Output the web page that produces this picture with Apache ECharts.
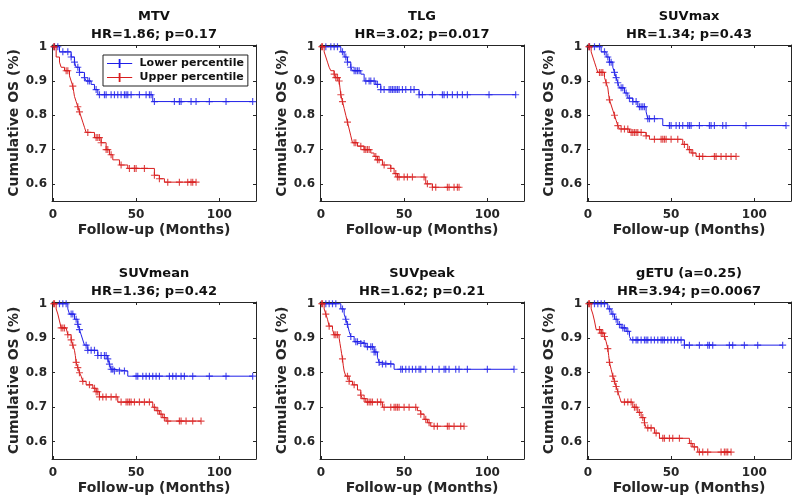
<!DOCTYPE html>
<html>
<head>
<meta charset="utf-8">
<script src="https://cdn.jsdelivr.net/npm/echarts@6/dist/echarts.min.js"></script>
<style>html,body{margin:0;padding:0;background:#fff}#c{width:800px;height:502px}</style>
</head>
<body>
<div id="c"></div>
<script>
// ---------- DATA ----------
const panelNames = ['MTV', 'TLG', 'SUVmax', 'SUVmean', 'SUVpeak', 'gETU (a=0.25)'];
const hrLabels = ['HR=1.86; p=0.17', 'HR=3.02; p=0.017', 'HR=1.34; p=0.43', 'HR=1.36; p=0.42', 'HR=1.62; p=0.21', 'HR=3.94; p=0.0067'];
const groupNames = ['Lower percentile', 'Upper percentile'];
const xTicks = [0, 50, 100];
const yTicks = [0.6, 0.7, 0.8, 0.9, 1];

// KM steps: [time, survival from that time], last follow-up time, censoring times
const mtvLowerSteps = [[0,1],[4,0.985],[11,0.97],[13,0.955],[14,0.94],[16,0.925],[19,0.91],[20,0.9],[23,0.89],[25,0.875],[27,0.86],[60,0.84]];
const mtvLowerEnd = 120;
const mtvLowerCens = [1,3,6,9,11,13,15,16,19,21,22,26,28,31,32,35,37,39,41,43,44,45,47,52,56,58,59,61,73,76,77,83,86,94,104,120];
const mtvUpperSteps = [[0,1],[2,0.97],[4,0.955],[5,0.94],[7,0.93],[10,0.915],[11,0.9],[12,0.885],[12.5,0.87],[13,0.855],[14,0.84],[15,0.825],[16,0.81],[17,0.795],[18,0.78],[19,0.765],[20,0.75],[25,0.735],[29,0.72],[32,0.7],[34,0.685],[36,0.67],[40,0.655],[45,0.645],[61,0.625],[64,0.615],[67,0.605]];
const mtvUpperEnd = 86;
const mtvUpperCens = [0.5,1,8,9,12,15,16,21,26,27,28,29,32,33,35,41,46,49,50,55,61,64,69,76,81,83,84,86];

const tlgLowerSteps = [[0,1],[12,0.985],[14,0.97],[16,0.955],[18,0.94],[19,0.93],[24,0.92],[26,0.9],[33,0.89],[36,0.875],[59,0.86]];
const tlgLowerEnd = 117;
const tlgLowerCens = [3,6,8,10,13,15,16,18,20,21,22,23,27,29,30,32,34,36,38,41,42,43,44,45,46,47,49,51,54,56,59,61,67,73,74,76,79,82,85,88,101,117];
const tlgUpperSteps = [[0,1],[2,0.985],[3,0.97],[4,0.955],[5,0.94],[6,0.93],[8,0.92],[9,0.91],[11,0.9],[11.5,0.88],[12,0.86],[13,0.84],[14,0.82],[15,0.8],[16,0.78],[17,0.76],[18,0.74],[19,0.72],[22,0.71],[26,0.7],[30,0.69],[32,0.68],[34,0.67],[37,0.655],[42,0.645],[44,0.63],[46,0.62],[63,0.6],[67,0.59]];
const tlgUpperEnd = 83;
const tlgUpperCens = [0.5,1,8,9,10,11,12,13,16,20,21,24,26,27,28,29,33,34,35,38,42,45,46,47,50,52,55,62,64,67,69,76,77,80,82,83];

const suvmaxLowerSteps = [[0,1],[8,0.985],[11,0.97],[13,0.955],[15,0.94],[16,0.925],[17,0.91],[18,0.895],[19,0.88],[22,0.865],[24,0.85],[27,0.84],[30,0.825],[35,0.81],[36,0.79],[45,0.77]];
const suvmaxLowerEnd = 119;
const suvmaxLowerCens = [1,4,7,10,12,13,14,16,17,18,20,21,23,25,27,29,31,32,33,34,36,37,40,49,50,53,55,57,60,61,62,67,73,74,76,81,83,95,119];
const suvmaxUpperSteps = [[0,1],[2,0.985],[3,0.97],[4,0.955],[5,0.94],[6,0.925],[10,0.91],[11,0.895],[12,0.88],[12.5,0.86],[13,0.845],[14,0.83],[15,0.815],[16,0.8],[17,0.785],[18,0.77],[19,0.76],[25,0.75],[35,0.74],[37,0.73],[57,0.715],[60,0.7],[62,0.69],[65,0.68]];
const suvmaxUpperEnd = 89;
const suvmaxUpperCens = [0.5,1,7,8,9,11,13,16,18,20,22,24,26,27,28,29,30,32,35,40,44,45,46,47,50,54,58,61,63,67,69,76,77,80,83,86,89];

const suvmeanLowerSteps = [[0,1],[9,0.985],[10,0.97],[13,0.955],[15,0.94],[16,0.925],[17,0.91],[18,0.895],[19,0.88],[21,0.865],[27,0.85],[33,0.84],[34,0.825],[35,0.81],[37,0.805],[45,0.79]];
const suvmeanLowerEnd = 120;
const suvmeanLowerCens = [4,6,8,11,12,14,15,16,20,21,23,25,27,29,31,32,33,34,35,36,37,40,43,50,51,54,56,58,60,62,64,70,72,74,77,79,84,94,104,120];
const suvmeanUpperSteps = [[0,1],[2,0.985],[3,0.97],[4,0.95],[5,0.93],[8,0.925],[9,0.91],[11,0.895],[12,0.88],[13,0.865],[13.5,0.85],[14,0.83],[15,0.815],[16,0.8],[17,0.79],[18,0.775],[20,0.765],[24,0.755],[26,0.745],[28,0.73],[39,0.715],[60,0.7],[62,0.69],[64,0.68],[66,0.67],[68,0.66]];
const suvmeanUpperEnd = 89;
const suvmeanUpperCens = [0.5,1,5,6,7,9,11,12,14,15,16,18,22,25,26,27,28,30,32,35,38,41,44,45,46,47,49,52,55,58,61,63,65,67,69,76,77,80,84,89];

const suvpeakLowerSteps = [[0,1],[12,0.985],[14,0.97],[15,0.955],[16,0.94],[17,0.92],[18,0.905],[20,0.89],[24,0.885],[27,0.875],[32,0.86],[34,0.845],[35,0.83],[36,0.825],[44,0.81]];
const suvpeakLowerEnd = 116;
const suvpeakLowerCens = [3,5,7,9,13,15,16,18,21,22,24,26,28,30,31,32,33,35,37,39,42,48,49,51,53,55,57,59,60,63,67,71,74,75,77,81,83,88,100,116];
const suvpeakUpperSteps = [[0,1],[2,0.985],[3,0.97],[4,0.955],[5,0.935],[7,0.925],[8,0.91],[11,0.9],[11.5,0.885],[12,0.87],[12.5,0.855],[13,0.84],[13.5,0.82],[14,0.805],[15,0.79],[17,0.775],[19,0.765],[22,0.75],[24,0.735],[25,0.725],[27,0.715],[37,0.7],[58,0.69],[60,0.68],[62,0.665],[64,0.655],[66,0.645]];
const suvpeakUpperEnd = 86;
const suvpeakUpperCens = [0.5,1,3,5,8,9,10,13,16,17,20,24,26,28,29,30,31,34,36,38,42,44,45,46,47,50,53,57,60,63,65,68,70,76,77,80,84,86];

const getuLowerSteps = [[0,1],[12,0.985],[14,0.97],[16,0.955],[18,0.94],[20,0.93],[23,0.92],[25,0.905],[26,0.895],[58,0.88]];
const getuLowerEnd = 117;
const getuLowerCens = [4,6,8,10,13,15,17,19,21,22,24,27,29,30,32,34,35,36,38,40,42,44,45,46,48,50,52,54,56,58,61,67,72,73,75,85,87,94,102,117];
const getuUpperSteps = [[0,1],[2,0.985],[3,0.97],[4,0.95],[5,0.925],[8,0.915],[10,0.905],[11,0.89],[12,0.87],[12.5,0.85],[13,0.83],[14,0.81],[15,0.79],[16,0.775],[17,0.76],[18,0.745],[19,0.73],[20,0.715],[27,0.7],[30,0.685],[32,0.67],[34,0.655],[35,0.64],[40,0.625],[43,0.61],[61,0.595],[63,0.585],[66,0.57]];
const getuUpperEnd = 86;
const getuUpperCens = [0.5,1,7,8,9,10,12,13,15,16,17,18,22,24,26,28,29,31,33,34,36,38,41,45,46,49,51,55,62,64,67,69,72,80,82,83,84,86];

// ---------- BUILD ----------
const panels = [
  {lower:[mtvLowerSteps, mtvLowerEnd, mtvLowerCens], upper:[mtvUpperSteps, mtvUpperEnd, mtvUpperCens]},
  {lower:[tlgLowerSteps, tlgLowerEnd, tlgLowerCens], upper:[tlgUpperSteps, tlgUpperEnd, tlgUpperCens]},
  {lower:[suvmaxLowerSteps, suvmaxLowerEnd, suvmaxLowerCens], upper:[suvmaxUpperSteps, suvmaxUpperEnd, suvmaxUpperCens]},
  {lower:[suvmeanLowerSteps, suvmeanLowerEnd, suvmeanLowerCens], upper:[suvmeanUpperSteps, suvmeanUpperEnd, suvmeanUpperCens]},
  {lower:[suvpeakLowerSteps, suvpeakLowerEnd, suvpeakLowerCens], upper:[suvpeakUpperSteps, suvpeakUpperEnd, suvpeakUpperCens]},
  {lower:[getuLowerSteps, getuLowerEnd, getuLowerCens], upper:[getuUpperSteps, getuUpperEnd, getuUpperCens]}
];

const FONT = 'DejaVu Sans';
const BLUE = '#1f1fe8';
const RED = '#d81e1e';
const AXC = '#262626';
const PLUS = 'path://M5,0H7V5H12V7H7V12H5V7H0V5H5Z';
const LEGICON = 'path://M0,4.5H13V0H15V4.5H28V5.5H15V10H13V5.5H0Z';

const gLeft = [52, 320, 587];
const gTop = [45, 302];
const gW = 204, gH = [156, 157];

function survAt(steps, t) {
  let s = steps[0][1];
  for (const [tt, ss] of steps) { if (tt <= t) s = ss; else break; }
  return s;
}

const grids = [], xAxes = [], yAxes = [], series = [], titles = [];
panels.forEach((p, i) => {
  const r = Math.floor(i / 3), c = i % 3;
  grids.push({left: gLeft[c], top: gTop[r], width: gW, height: gH[r], containLabel: false});
  const xBase = {gridIndex: i, type: 'value', min: -0.5, max: 122, splitLine: {show: false},
    axisLine: {show: true, onZero: false, lineStyle: {color: AXC, width: 1}},
    axisTick: {show: true, inside: true, length: 3, customValues: xTicks, lineStyle: {color: AXC}}};
  xAxes.push(Object.assign({}, xBase, {position: 'bottom',
    axisLabel: {show: true, customValues: xTicks, margin: 8, fontFamily: FONT, fontWeight: 'bold', fontSize: 12, color: AXC},
    name: 'Follow-up (Months)', nameLocation: 'middle', nameGap: 22,
    nameTextStyle: {fontFamily: FONT, fontWeight: 'bold', fontSize: 14, color: AXC}}));
  xAxes.push(Object.assign({}, xBase, {position: 'top', axisLabel: {show: false}}));
  const yBase = {gridIndex: i, type: 'value', min: 0.55, max: 1.005, splitLine: {show: false},
    axisLine: {show: true, onZero: false, lineStyle: {color: AXC, width: 1}},
    axisTick: {show: true, inside: true, length: 3, customValues: yTicks, lineStyle: {color: AXC}}};
  yAxes.push(Object.assign({}, yBase, {position: 'left',
    axisLabel: {show: true, customValues: yTicks, margin: 5, fontFamily: FONT, fontWeight: 'bold', fontSize: 12, color: AXC,
      formatter: v => (Math.abs(v - 1) < 1e-9 ? '1' : v.toFixed(1))},
    name: 'Cumulative OS (%)', nameLocation: 'middle', nameGap: 31,
    nameTextStyle: {fontFamily: FONT, fontWeight: 'bold', fontSize: 14, color: AXC}}));
  yAxes.push(Object.assign({}, yBase, {position: 'right', axisLabel: {show: false}}));

  titles.push({text: panelNames[i] + '\n' + hrLabels[i], left: gLeft[c] + gW / 2, top: r === 0 ? 8 : 265,
    textAlign: 'center', padding: 0,
    textStyle: {fontFamily: FONT, fontWeight: 'bold', fontSize: 13, color: '#111', lineHeight: 18}});

  [['lower', BLUE, groupNames[0]], ['upper', RED, groupNames[1]]].forEach(([key, col, nm]) => {
    const [steps, end, cens] = p[key];
    const lineData = steps.map(d => [d[0], d[1]]);
    lineData.push([end, steps[steps.length - 1][1]]);
    series.push({type: 'line', name: nm, xAxisIndex: 2 * i, yAxisIndex: 2 * i, data: lineData, step: 'end',
      showSymbol: false, symbol: LEGICON, lineStyle: {color: col, width: 1}, itemStyle: {color: col},
      silent: true, animation: false, z: key === 'lower' ? 2 : 3});
    series.push({type: 'scatter', name: nm + ' censored', xAxisIndex: 2 * i, yAxisIndex: 2 * i,
      data: cens.map(t => [t, survAt(steps, t)]), symbol: PLUS, symbolSize: 7,
      itemStyle: {color: col}, silent: true, animation: false, z: key === 'lower' ? 2 : 3});
  });
});

const chart = echarts.init(document.getElementById('c'), null, {renderer: 'canvas'});
chart.setOption({
  backgroundColor: '#fff',
  animation: false,
  title: titles,
  grid: grids,
  xAxis: xAxes,
  yAxis: yAxes,
  legend: {
    data: [{name: groupNames[0], icon: LEGICON}, {name: groupNames[1], icon: LEGICON}],
    orient: 'vertical', left: 103, top: 55, itemWidth: 30, itemHeight: 9, itemGap: 3,
    padding: [3, 4, 3, 4], borderColor: '#222', borderWidth: 1, backgroundColor: '#fff',
    selectedMode: false,
    textStyle: {fontFamily: FONT, fontWeight: 'bold', fontSize: 11, color: '#111'}
  },
  series: series
});
</script>
</body>
</html>
